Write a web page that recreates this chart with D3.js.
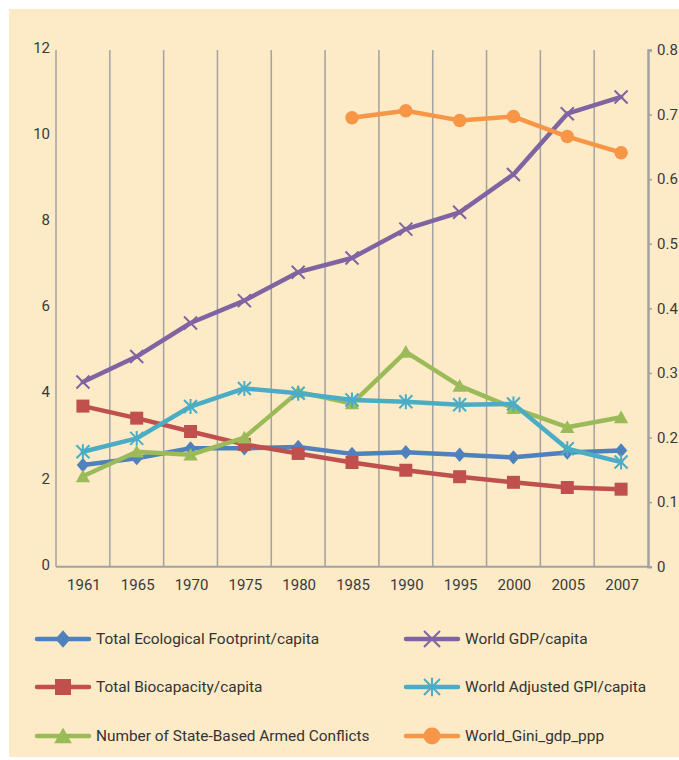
<!DOCTYPE html>
<html>
<head>
<meta charset="utf-8">
<script src="https://cdn.jsdelivr.net/npm/d3@7"></script>
<style>
  body { margin: 0; background: #fff; }
  text { font-family: Roboto, "Liberation Sans", sans-serif; }
</style>
</head>
<body>
<svg id="chart" width="679" height="760"></svg>
<script>
// values
var years = ["1961", "1965", "1970", "1975", "1980", "1985", "1990", "1995", "2000", "2005", "2007"];
var footprint = [2.36, 2.52, 2.75, 2.75, 2.78, 2.62, 2.66, 2.6, 2.54, 2.65, 2.7];
var biocapacity = [3.73, 3.45, 3.14, 2.84, 2.63, 2.42, 2.24, 2.09, 1.96, 1.84, 1.8];
var conflicts = [2.1, 2.67, 2.6, 3.0, 4.06, 3.79, 4.99, 4.2, 3.68, 3.24, 3.47];
var gdp = [4.29, 4.88, 5.66, 6.18, 6.84, 7.17, 7.84, 8.23, 9.11, 10.52, 10.91];
var gpi = [2.67, 2.98, 3.72, 4.14, 4.03, 3.87, 3.83, 3.76, 3.78, 2.74, 2.43];
var gini = [null, null, null, null, null, 0.695, 0.706, 0.691, 0.697, 0.666, 0.641];

var leftTicks = [0, 2, 4, 6, 8, 10, 12];
var rightTicks = [0, 0.1, 0.2, 0.3, 0.4, 0.5, 0.6, 0.7, 0.8];

var series = [
  { name: "Total Ecological Footprint/capita", values: footprint, color: "#4F81BD", marker: "diamond", axis: "left" },
  { name: "Total Biocapacity/capita", values: biocapacity, color: "#C0504D", marker: "square", axis: "left" },
  { name: "Number of State-Based Armed Conflicts", values: conflicts, color: "#9BBB59", marker: "triangle", axis: "left" },
  { name: "World GDP/capita", values: gdp, color: "#8064A2", marker: "x", axis: "left" },
  { name: "World Adjusted GPI/capita", values: gpi, color: "#4BACC6", marker: "star", axis: "left" },
  { name: "World_Gini_gdp_ppp", values: gini, color: "#F79646", marker: "circle", axis: "right" }
];

var svg = d3.select("#chart");

// cream panel
svg.append("rect")
  .attr("x", 9).attr("y", 9)
  .attr("width", 670).attr("height", 748)
  .attr("fill", "#FDEAC7");

var plotLeft = 56, plotRight = 648, plotTop = 50, plotBottom = 566.7;

var x = d3.scaleBand().domain(years).range([plotLeft, plotRight]).padding(0);
var y = d3.scaleLinear().domain([0, 12]).range([plotBottom, plotTop]);
var y2 = d3.scaleLinear().domain([0, 0.8]).range([plotBottom, plotTop]);

// vertical gridlines at category borders
var g = svg.append("g");
g.selectAll("line.grid")
  .data(years.slice(1))
  .enter().append("line")
  .attr("class", "grid")
  .attr("x1", function (d) { return x(d); })
  .attr("x2", function (d) { return x(d); })
  .attr("y1", plotTop).attr("y2", plotBottom)
  .attr("stroke", "#A2A2A2").attr("stroke-width", 1.5);

// left axis line + bottom axis line
g.append("line").attr("x1", plotLeft).attr("x2", plotLeft).attr("y1", plotTop).attr("y2", plotBottom)
  .attr("stroke", "#A2A2A2").attr("stroke-width", 1.5);
g.append("line").attr("x1", plotLeft).attr("x2", plotRight).attr("y1", plotBottom).attr("y2", plotBottom)
  .attr("stroke", "#A2A2A2").attr("stroke-width", 2);

// left labels
g.selectAll("text.yl")
  .data(leftTicks)
  .enter().append("text")
  .attr("x", 50)
  .attr("y", function (d) { return y(d) - 1; })
  .attr("text-anchor", "end")
  .attr("dominant-baseline", "middle")
  .attr("font-size", 15)
  .attr("fill", "#3a3a3a")
  .text(function (d) { return d; });

// right axis
var rAxis = d3.axisRight(y2).tickValues(rightTicks).tickSize(4).tickPadding(5)
  .tickFormat(function (d) { return d === 0 ? "0" : d3.format(".1f")(d); });
var ra = svg.append("g").attr("transform", "translate(" + plotRight + ",0)").call(rAxis);
ra.select(".domain").attr("stroke", "#A2A2A2").attr("stroke-width", 2.5);
ra.selectAll(".tick line").attr("stroke", "#A2A2A2").attr("stroke-width", 1.5);
ra.selectAll(".tick text").attr("font-size", 15).attr("fill", "#3a3a3a")
  .attr("font-family", "Roboto, sans-serif");

// x labels
g.selectAll("text.xl")
  .data(years)
  .enter().append("text")
  .attr("x", function (d) { return x(d) + x.bandwidth() / 2 + 1; })
  .attr("y", 590)
  .attr("text-anchor", "middle")
  .attr("font-size", 15)
  .attr("fill", "#3a3a3a")
  .text(function (d) { return d; });

// marker shapes
function markerPath(type, s) {
  var h = s / 2;
  if (type === "diamond") return "M0," + (-h * 1.1) + "L" + (h * 0.95) + ",0L0," + (h * 1.1) + "L" + (-h * 0.95) + ",0Z";
  if (type === "square") return "M" + (-h) + "," + (-h) + "H" + h + "V" + h + "H" + (-h) + "Z";
  if (type === "triangle") return "M0," + (-h * 1.05) + "L" + (h * 1.1) + "," + (h * 0.9) + "L" + (-h * 1.1) + "," + (h * 0.9) + "Z";
  if (type === "circle") return d3.symbol().type(d3.symbolCircle).size(Math.PI * h * h)();
  if (type === "x") return "M" + (-h) + "," + (-h) + "L" + h + "," + h + "M" + h + "," + (-h) + "L" + (-h) + "," + h;
  if (type === "star") return "M" + (-h) + "," + (-h) + "L" + h + "," + h + "M" + h + "," + (-h) + "L" + (-h) + "," + h + "M0," + (-h * 1.15) + "V" + (h * 1.15);
}

function drawMarker(sel, type, color, size) {
  var open = type === "x" || type === "star";
  sel.append("path")
    .attr("d", markerPath(type, size))
    .attr("fill", open ? "none" : color)
    .attr("stroke", color)
    .attr("stroke-width", open ? 2 : 0);
}

// lines
series.forEach(function (s) {
  var sy = s.axis === "left" ? y : y2;
  var pts = years.map(function (yr, i) { return { yr: yr, v: s.values[i] }; })
    .filter(function (d) { return d.v !== null; });
  var line = d3.line()
    .x(function (d) { return x(d.yr) + x.bandwidth() / 2; })
    .y(function (d) { return sy(d.v); });
  var sg = svg.append("g");
  sg.append("path")
    .datum(pts)
    .attr("d", line)
    .attr("fill", "none")
    .attr("stroke", s.color)
    .attr("stroke-width", 4.5)
    .attr("stroke-linejoin", "round")
    .attr("stroke-linecap", "round");
  pts.forEach(function (d) {
    var m = sg.append("g")
      .attr("transform", "translate(" + (x(d.yr) + x.bandwidth() / 2) + "," + sy(d.v) + ")");
    drawMarker(m, s.marker, s.color, s.marker === "circle" ? 13.5 : 13);
  });
});

// legend
var legendPos = [
  [35, 639], [35, 687], [35, 736],
  [404, 639], [404, 687], [404, 736]
];
series.forEach(function (s, i) {
  var lx = legendPos[i][0], ly = legendPos[i][1];
  var lg = svg.append("g");
  lg.append("line")
    .attr("x1", lx + 2).attr("x2", lx + 54)
    .attr("y1", ly).attr("y2", ly)
    .attr("stroke", s.color).attr("stroke-width", 4.5)
    .attr("stroke-linecap", "round");
  var m = lg.append("g").attr("transform", "translate(" + (lx + 28) + "," + ly + ")");
  drawMarker(m, s.marker, s.color, s.marker === "circle" ? 17 : 16);
  lg.append("text")
    .attr("x", lx + 61)
    .attr("y", ly + 5)
    .attr("font-size", 15.4)
    .attr("fill", "#333")
    .text(s.name);
});
</script>
</body>
</html>
